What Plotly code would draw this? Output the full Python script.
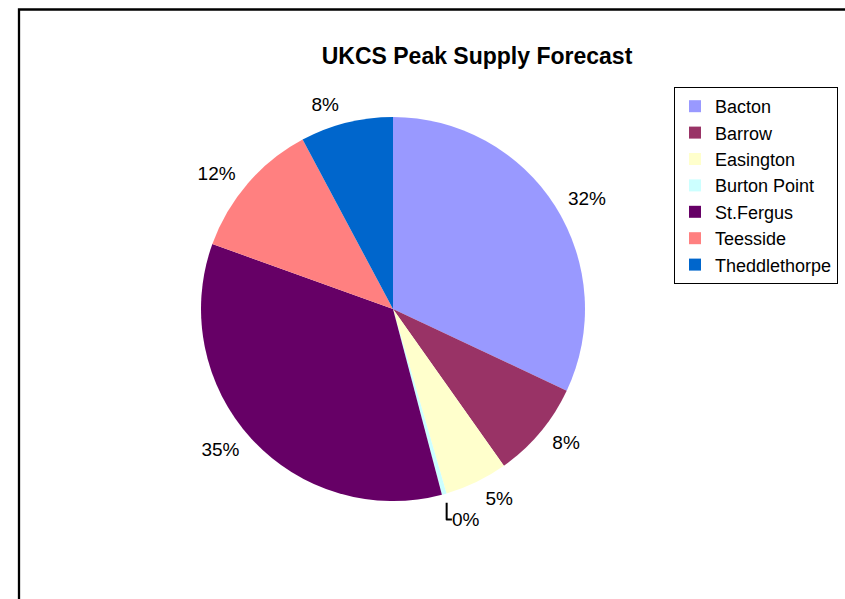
import plotly.graph_objects as go

labels = ["Bacton", "Barrow", "Easington", "Burton Point", "St.Fergus", "Teesside", "Theddlethorpe"]
values = [32.0, 8.2, 5.3, 0.4, 34.6, 11.7, 7.8]
colors = ["#9999FF", "#993366", "#FFFFCC", "#CCFFFF", "#660066", "#FF8080", "#0066CC"]

W, H = 845, 599
cx, cy = 393, 309
r_pie = 192
r_text = 201


def dom(h):
    return dict(x=[(cx - h) / W, (cx + h) / W], y=[(H - cy - h) / H, (H - cy + h) / H])


fig = go.Figure()
# label carrier: same data, transparent, slightly larger so labels sit off the rim
fig.add_trace(go.Pie(
    labels=labels, values=values, sort=False, direction="clockwise", rotation=0,
    marker=dict(colors=["rgba(0,0,0,0)"] * len(labels), line=dict(width=0)),
    textposition="outside", texttemplate="%{percent:.0%}",
    textfont=dict(family="Arial, Liberation Sans", size=19, color="black"),
    hoverinfo="skip", showlegend=False, domain=dom(r_text),
))
fig.add_trace(go.Pie(
    labels=labels, values=values, sort=False, direction="clockwise", rotation=0,
    marker=dict(colors=colors, line=dict(width=0)),
    textposition="none",
    hoverinfo="skip", domain=dom(r_pie),
))

fig.update_layout(
    width=W, height=H, margin=dict(l=0, r=0, t=0, b=0),
    paper_bgcolor="white", plot_bgcolor="white",
    font=dict(family="Arial, Liberation Sans", color="black"),
    title=dict(text="<b>UKCS Peak Supply Forecast</b>", font=dict(size=23, color="black"),
               x=477 / W, xanchor="center", y=1 - 56 / H, yanchor="middle", yref="container"),
    legend=dict(x=674 / W, y=1 - 87 / H, xanchor="left", yanchor="top",
                bordercolor="black", borderwidth=1, bgcolor="white",
                font=dict(size=18, color="black"), itemclick=False),
    shapes=[dict(type="rect", xref="paper", yref="paper",
                 x0=19 / W, x1=1.05, y0=-0.05, y1=1 - 9.5 / H,
                 line=dict(color="black", width=2.3), layer="below")],
)

fig.write_html("out.html")
